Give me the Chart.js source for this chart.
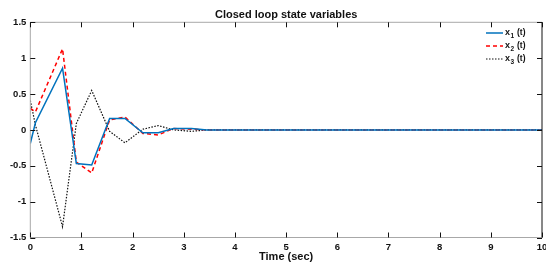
<!DOCTYPE html>
<html>
<head>
<meta charset="utf-8">
<script src="https://cdn.jsdelivr.net/npm/chart.js@4/dist/chart.umd.min.js"></script>
<style>
  html, body { margin: 0; padding: 0; background: #fff; }
  #wrap { width: 546px; height: 264px; }
</style>
</head>
<body>
<div id="wrap"><canvas id="stateChart" width="546" height="264"></canvas></div>
<script>
// sample times (sec)
const timeSec = [0, 0.1, 0.63, 0.9, 1.2, 1.55, 1.85, 2.2, 2.5, 2.8, 3.15, 3.45, 3.8, 4.1, 4.4, 4.75,
    5.05, 5.4, 5.7, 6.0, 6.35, 6.65, 7.0, 7.3, 7.6, 7.95, 8.25, 8.6, 8.9, 9.2, 9.55, 9.85, 10];
const x1 = [-0.19, 0.1, 0.86, -0.47, -0.49, 0.16, 0.16, -0.04, -0.04, 0.02, 0.02, 0, 0, 0, 0, 0,
    0, 0, 0, 0, 0, 0, 0, 0, 0, 0, 0, 0, 0, 0, 0, 0, 0];
const x2 = [0.3, 0.25, 1.13, -0.45, -0.6, 0.14, 0.18, -0.05, -0.07, 0.02, 0.01, 0, 0, 0, 0, 0,
    0, 0, 0, 0, 0, 0, 0, 0, 0, 0, 0, 0, 0, 0, 0, 0, 0];
const x3 = [0.41, 0.07, -1.35, 0.09, 0.55, -0.02, -0.18, 0.01, 0.06, 0.0, -0.02, 0, 0, 0, 0, 0,
    0, 0, 0, 0, 0, 0, 0, 0, 0, 0, 0, 0, 0, 0, 0, 0, 0];
const seriesNames = ['1', '2', '3'];
const xTicks = [0, 1, 2, 3, 4, 5, 6, 7, 8, 9, 10];
const yTicks = [-1.5, -1, -0.5, 0, 0.5, 1, 1.5];

const FONT = '"Liberation Sans", Arial, sans-serif';

function toPoints(values) {
    return timeSec.map((t, i) => ({ x: t, y: values[i] }));
}

// MATLAB style box with inward ticks on all four sides
const boxPlugin = {
    id: 'boxPlugin',
    afterDraw(chart) {
        const ctx = chart.ctx;
        const a = chart.chartArea;
        const xs = chart.scales.x, ys = chart.scales.y;
        ctx.save();
        ctx.lineWidth = 1;
        ctx.strokeStyle = '#a8a8a8';
        ctx.beginPath();
        ctx.moveTo(a.left, a.top); ctx.lineTo(a.right, a.top);
        ctx.moveTo(a.left, a.top); ctx.lineTo(a.left, a.bottom);
        ctx.lineTo(a.right, a.bottom);
        ctx.stroke();
        ctx.strokeStyle = '#111';
        ctx.beginPath();
        ctx.moveTo(a.right, a.top); ctx.lineTo(a.right, a.bottom);
        xTicks.forEach(v => {
            const px = Math.round(xs.getPixelForValue(v)) + 0.5;
            ctx.moveTo(px, a.bottom); ctx.lineTo(px, a.bottom - 5);
            ctx.moveTo(px, a.top); ctx.lineTo(px, a.top + 5);
        });
        yTicks.forEach(v => {
            const py = Math.round(ys.getPixelForValue(v)) + 0.5;
            ctx.moveTo(a.left, py); ctx.lineTo(a.left + 5, py);
            ctx.moveTo(a.right, py); ctx.lineTo(a.right - 5, py);
        });
        ctx.stroke();

        // legend, top right inside the axes
        const ds = chart.data.datasets;
        ds.forEach((d, i) => {
            const y = 33 + i * 13;
            ctx.strokeStyle = d.borderColor;
            ctx.lineWidth = d.borderWidth;
            ctx.setLineDash(d.borderDash || []);
            ctx.beginPath();
            ctx.moveTo(486, y); ctx.lineTo(503, y);
            ctx.stroke();
            ctx.setLineDash([]);
            ctx.fillStyle = '#111';
            ctx.textBaseline = 'middle';
            ctx.textAlign = 'left';
            ctx.font = 'bold 9px ' + FONT;
            ctx.fillText('x', 505, y);
            const w = ctx.measureText('x').width;
            ctx.font = 'bold 6.5px ' + FONT;
            ctx.fillText(seriesNames[i], 505 + w + 0.5, y + 3);
            const w2 = ctx.measureText(seriesNames[i]).width;
            ctx.font = 'bold 8.5px ' + FONT;
            ctx.fillText(' (t)', 505 + w + w2 + 1, y);
        });
        ctx.restore();
    }
};

const ctx = document.getElementById('stateChart').getContext('2d');
const chart = new Chart(ctx, {
    type: 'line',
    data: {
        datasets: [{
            label: 'x1 (t)',
            data: toPoints(x1),
            borderColor: '#0072BD',
            borderWidth: 1.5,
            pointRadius: 0,
            tension: 0
        }, {
            label: 'x2 (t)',
            data: toPoints(x2),
            borderColor: '#FF0000',
            borderWidth: 1.5,
            borderDash: [4, 3],
            pointRadius: 0,
            tension: 0
        }, {
            label: 'x3 (t)',
            data: toPoints(x3),
            borderColor: '#111111',
            borderWidth: 1.2,
            borderDash: [1.5, 1.5],
            pointRadius: 0,
            tension: 0
        }]
    },
    options: {
        responsive: false,
        animation: false,
        events: [],
        layout: { padding: { left: 0, right: 4, top: 0, bottom: 0 } },
        plugins: {
            legend: { display: false },
            tooltip: { enabled: false },
            title: {
                display: true,
                text: 'Closed loop state variables',
                fullSize: false,
                color: '#111',
                font: { family: FONT, size: 11, weight: 'bold' },
                padding: { top: 8.4, bottom: 0.7 }
            }
        },
        scales: {
            x: {
                type: 'linear',
                min: 0,
                max: 10,
                grid: { display: false, drawTicks: false },
                border: { display: false },
                afterBuildTicks: s => { s.ticks = xTicks.map(v => ({ value: v })); },
                ticks: {
                    padding: 4,
                    maxRotation: 0,
                    color: '#111',
                    font: { family: FONT, size: 9.5, weight: 'bold' },
                    callback: v => String(v)
                },
                title: {
                    display: true,
                    text: 'Time (sec)',
                    color: '#111',
                    font: { family: FONT, size: 11, weight: 'bold' },
                    padding: { top: 0, bottom: 0.4 }
                },
                afterFit: s => { s.height = 26.5; s.paddingLeft = 0; s.paddingRight = 0; }
            },
            y: {
                min: -1.5,
                max: 1.5,
                grid: { display: false, drawTicks: false },
                border: { display: false },
                afterBuildTicks: s => { s.ticks = yTicks.map(v => ({ value: v })); },
                ticks: {
                    padding: 4,
                    color: '#111',
                    font: { family: FONT, size: 9.5, weight: 'bold' },
                    callback: v => String(v)
                },
                afterFit: s => { s.width = 30.3; s.paddingTop = 0; s.paddingBottom = 0; }
            }
        }
    },
    plugins: [boxPlugin]
});
</script>
</body>
</html>
